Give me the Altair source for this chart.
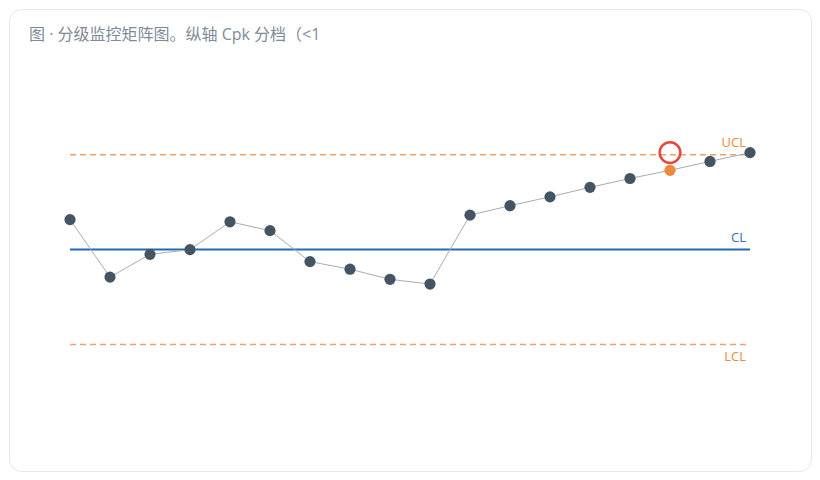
import altair as alt
import pandas as pd

# ---- data ----
idx = list(range(1, 19))
values = [0.95, -0.87, -0.15, 0.0, 0.88, 0.60, -0.38, -0.62, -0.94, -1.09,
          1.09, 1.39, 1.67, 1.97, 2.25, 2.51, 2.79, 3.07]
flag = ["ok"] * 15 + ["warn"] + ["ok"] * 2
ring_idx = [16]
ring_val = [3.07]
limit_names = ["UCL", "CL", "LCL"]
limit_vals = [3.0, 0.0, -3.0]
title_text = ["图 · 分级监控矩阵图。纵轴 Cpk 分档（<1"]

FONT = "Open Sans, Noto Sans CJK SC, sans-serif"

pts = pd.DataFrame({"i": idx, "v": values, "flag": flag})
lim = pd.DataFrame({"name": limit_names, "v": limit_vals,
                    "x0": [idx[0]] * 3, "x1": [idx[-1]] * 3})
ring = pd.DataFrame({"i": ring_idx, "v": ring_val})
ttl = pd.DataFrame({"t": title_text})

xs = alt.Scale(domain=[-0.525, 19.525], nice=False, zero=False)
ys = alt.Scale(domain=[-7.006, 7.614], nice=False, zero=False)
X = lambda f: alt.X(f, type="quantitative", scale=xs, axis=None)
Y = lambda f: alt.Y(f, type="quantitative", scale=ys, axis=None)

dashed = alt.Chart(lim).transform_filter("datum.name != 'CL'").mark_rule(
    color="#f2a066", strokeWidth=1.5, strokeDash=[6, 4]
).encode(x=X("x0"), x2="x1", y=Y("v"))

cl = alt.Chart(lim).transform_filter("datum.name == 'CL'").mark_rule(
    color="#1f6bb5", strokeWidth=2
).encode(x=X("x0"), x2="x1", y=Y("v"))

line = alt.Chart(pts).mark_line(color="#a7adb3", strokeWidth=1).encode(
    x=X("i"), y=Y("v"))

dots = alt.Chart(pts).mark_circle(size=125, opacity=1).encode(
    x=X("i"), y=Y("v"),
    color=alt.Color("flag:N", scale=alt.Scale(domain=["ok", "warn"],
                                              range=["#435563", "#ec8a3a"]),
                    legend=None))

ringm = alt.Chart(ring).mark_point(shape="circle", size=430, filled=False,
                                   color="#e8473b", strokeWidth=2.5,
                                   opacity=1).encode(x=X("i"), y=Y("v"))

ucl_t = alt.Chart(lim).transform_filter("datum.name == 'UCL'").mark_text(
    align="right", baseline="middle", dx=-4, dy=-12, fontSize=13,
    font=FONT, color="#ec8a3a").encode(x=X("x1"), y=Y("v"), text="name:N")
cl_t = alt.Chart(lim).transform_filter("datum.name == 'CL'").mark_text(
    align="right", baseline="middle", dx=-4, dy=-12, fontSize=13,
    font=FONT, color="#2a72b8").encode(x=X("x1"), y=Y("v"), text="name:N")
lcl_t = alt.Chart(lim).transform_filter("datum.name == 'LCL'").mark_text(
    align="right", baseline="middle", dx=-4, dy=13, fontSize=13,
    font=FONT, color="#ec8a3a").encode(x=X("x1"), y=Y("v"), text="name:N")

title = alt.Chart(ttl).mark_text(
    align="left", baseline="middle", fontSize=16, font=FONT,
    color="#7f8a99").encode(x=alt.value(20), y=alt.value(26), text="t:N")

chart = alt.layer(dashed, cl, line, dots, ringm, ucl_t, cl_t, lcl_t, title).properties(
    width=802, height=462, padding=1,
    autosize=alt.AutoSizeParams(type="none"),
    background="white",
).configure_view(stroke="#e4e7eb", strokeWidth=1, cornerRadius=12, fill="white")

chart.save("out.html", embed_options={"renderer": "svg", "actions": False})
